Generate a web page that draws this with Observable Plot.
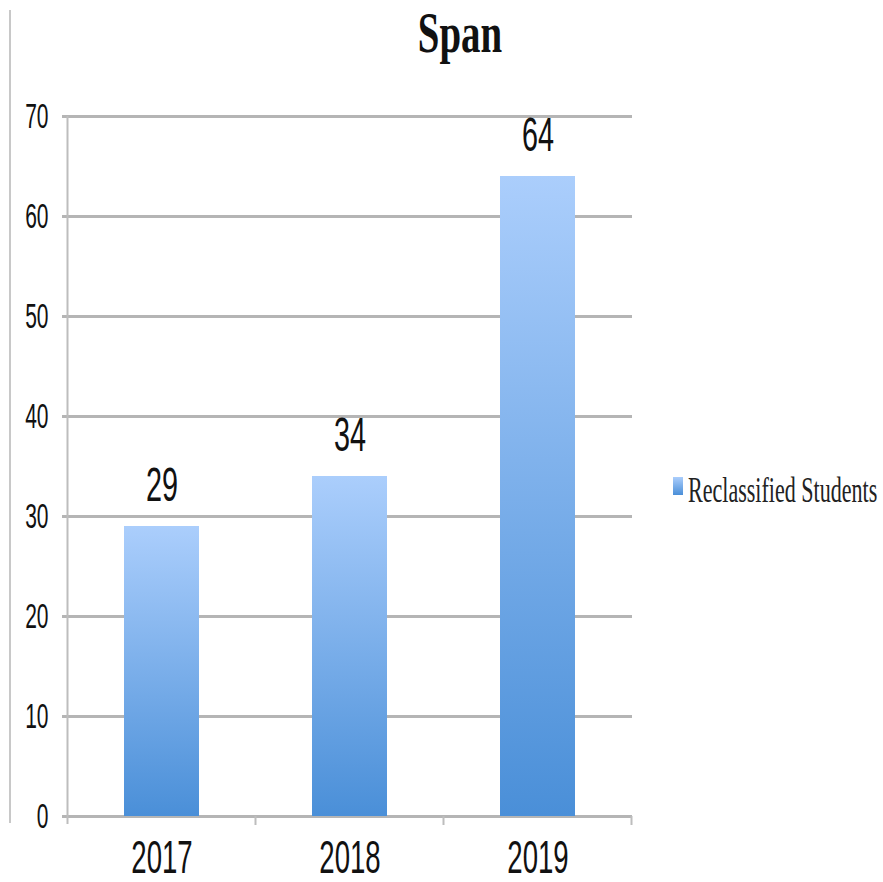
<!DOCTYPE html>
<html><head><meta charset="utf-8">
<script src="https://cdn.jsdelivr.net/npm/d3@7"></script>
<script src="https://cdn.jsdelivr.net/npm/@observablehq/plot@0.6"></script>
<style>body{margin:0;background:#fff} svg{display:block}</style>
</head><body><div id="chart"></div>
<script>
const years = ["2017", "2018", "2019"];
const values = [29, 34, 64];
const yTicks = [0, 10, 20, 30, 40, 50, 60, 70];
const seriesName = "Reclassified Students";
const titleText = "Span";
const data = years.map((y, i) => ({year: y, value: values[i]}));

const W = 883, H = 882;
const plot = Plot.plot({
  width: W, height: H,
  marginLeft: 68, marginRight: 251, marginTop: 116, marginBottom: 66,
  style: {fontFamily: "'Liberation Sans', Arial, sans-serif", background: "#fff", color: "#111", overflow: "visible"},
  x: {domain: years, paddingInner: 0.6, paddingOuter: 0.3, label: null},
  y: {domain: [0, 70], label: null},
  marks: [
    Plot.ruleY(yTicks, {stroke: "#b5b5b5", strokeWidth: 3, insetLeft: -6}),
    Plot.barY(data, {x: "year", y: "value", fill: "url(#barGrad)"}),
    Plot.text(data, {x: "year", y: "value", text: d => String(d.value), lineAnchor: "bottom", dy: -26, fontSize: 48, fill: "#111"}),
    Plot.axisY({ticks: yTicks, tickSize: 0, tickPadding: 20, fontSize: 35}),
    Plot.axisX({tickSize: 0, tickPadding: 24, fontSize: 46})
  ]
});

document.getElementById("chart").appendChild(plot);
const svg = d3.select(plot);
const defs = svg.insert("defs", ":first-child");
function grad(id) {
  const g = defs.append("linearGradient").attr("id", id).attr("x1", 0).attr("y1", 0).attr("x2", 0).attr("y2", 1);
  g.append("stop").attr("offset", "0%").attr("stop-color", "#abcefc");
  g.append("stop").attr("offset", "100%").attr("stop-color", "#4a8fd8");
}
grad("barGrad");
grad("legGrad");

const xs = plot.scale("x"), ys = plot.scale("y");
const y0 = ys.apply(0), yTop = ys.apply(70);
const step = xs.step;
const centers = years.map(y => xs.apply(y) + xs.bandwidth / 2);
const bounds = [centers[0] - step / 2, ...centers.map(c => c + step / 2)];
const axisG = svg.append("g").attr("stroke", "#bdbdbd").attr("stroke-width", 2);
axisG.append("line").attr("x1", bounds[0]).attr("x2", bounds[0]).attr("y1", yTop).attr("y2", y0 + 8);
bounds.slice(1).forEach(b => axisG.append("line").attr("x1", b).attr("x2", b).attr("y1", y0).attr("y2", y0 + 9));
// outer chart border on the left
svg.append("line").attr("x1", 10).attr("x2", 10).attr("y1", 10).attr("y2", 823).attr("stroke", "#c8c8c8").attr("stroke-width", 2);

// title
svg.append("text").text(titleText).attr("x", 460).attr("y", 52).attr("text-anchor", "middle")
  .attr("font-family", "'Liberation Serif', serif").attr("font-weight", "bold").attr("font-size", 58)
  .attr("fill", "#111").attr("data-sx", 0.67);

// legend
svg.append("rect").attr("x", 673).attr("y", 477).attr("width", 10).attr("height", 18).attr("fill", "url(#legGrad)");
svg.append("text").text(seriesName).attr("x", 688).attr("y", 502).attr("text-anchor", "start")
  .attr("font-family", "'Liberation Serif', serif").attr("font-size", 35)
  .attr("fill", "#222").attr("data-sx", 0.63);

// horizontally condensed text, as in the reference
plot.querySelectorAll("text").forEach(t => {
  const s = t.dataset.sx ? +t.dataset.sx : 0.6;
  const b = t.getBBox();
  const anchor = getComputedStyle(t).textAnchor;
  const ax = anchor === "middle" ? b.x + b.width / 2 : anchor === "end" ? b.x + b.width : b.x;
  const tr = t.getAttribute("transform") || "";
  t.setAttribute("transform", `${tr} translate(${ax},0) scale(${s},1) translate(${-ax},0)`);
});
</script>
</body></html>
